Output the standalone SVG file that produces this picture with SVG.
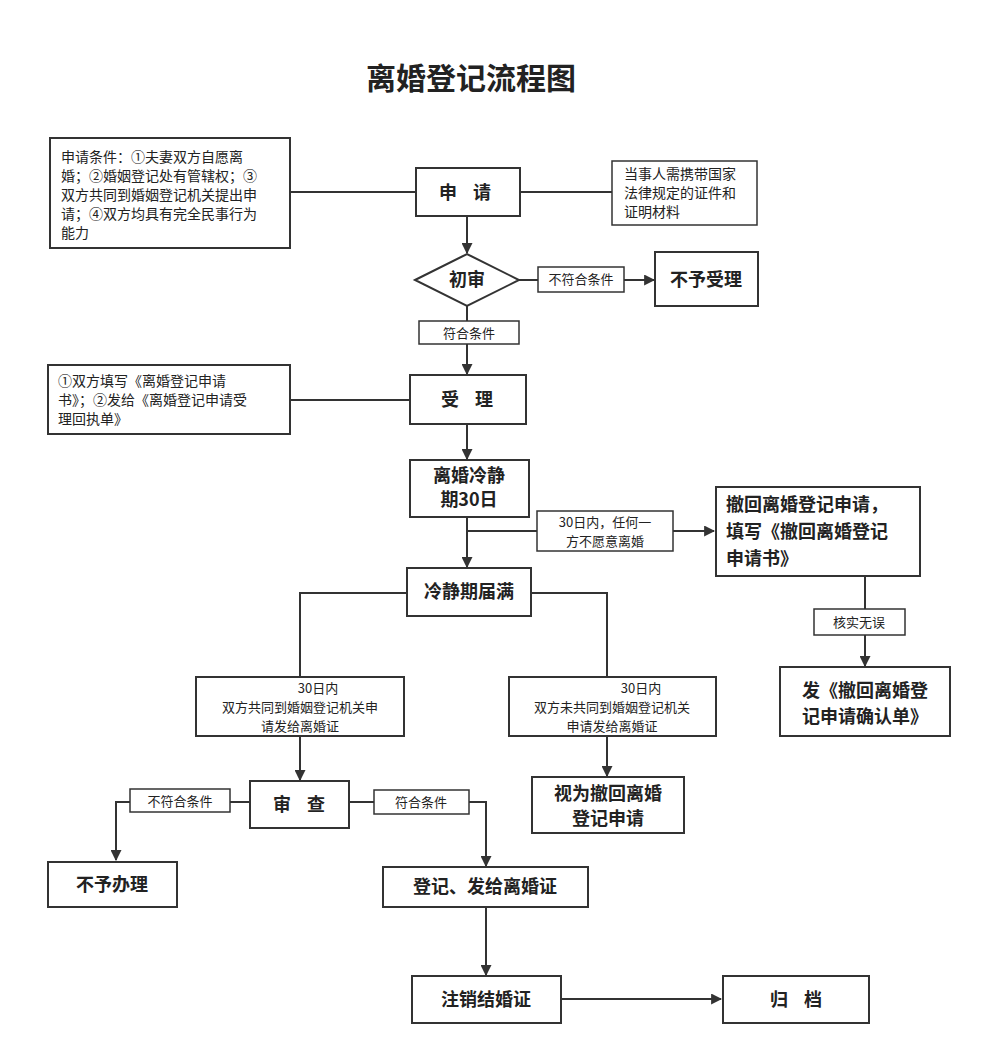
<svg xmlns="http://www.w3.org/2000/svg" width="982" height="1055" viewBox="0 0 982 1055">
<style>
.b{fill:#fff;stroke:#333;stroke-width:2}
.l{fill:#fff;stroke:#333;stroke-width:1.5}
text{font-family:"Noto Sans CJK SC","Noto Sans",sans-serif;fill:#222}
.t{font-size:18px;font-weight:bold;text-anchor:middle}
.ts{font-size:18px;font-weight:bold}
.s{font-size:14px}
.m{font-size:13px;text-anchor:middle}
.c{fill:none;stroke:#333;stroke-width:2}
</style>
<defs><marker id="a" viewBox="0 0 10 10" refX="9" refY="5" markerWidth="11" markerHeight="11" orient="auto" markerUnits="userSpaceOnUse"><path d="M0,0L10,5L0,10z" fill="#333"/></marker></defs>
<rect width="982" height="1055" fill="#fff"/>
<text x="471" y="89" font-size="30" font-weight="bold" text-anchor="middle">离婚登记流程图</text>
<g id="connectors">
<path class="c" d="M290,192H416M520,192H612"/>
<path class="c" d="M467,216V253" marker-end="url(#a)"/>
<path class="c" d="M519,280H538"/>
<path class="c" d="M624,280H654" marker-end="url(#a)"/>
<path class="c" d="M467,306V321"/>
<path class="c" d="M467,344V374" marker-end="url(#a)"/>
<path class="c" d="M290,400H410"/>
<path class="c" d="M467,424V459" marker-end="url(#a)"/>
<path class="c" d="M467,517V567" marker-end="url(#a)"/>
<path class="c" d="M467,531H537"/>
<path class="c" d="M673,531H714" marker-end="url(#a)"/>
<path class="c" d="M865,576V609"/>
<path class="c" d="M865,635V666" marker-end="url(#a)"/>
<path class="c" d="M407,593H300V677M531,593H607V677"/>
<path class="c" d="M300,736V780" marker-end="url(#a)"/>
<path class="c" d="M607,736V776" marker-end="url(#a)"/>
<path class="c" d="M250,802H230"/>
<path class="c" d="M130,802H116V860" marker-end="url(#a)"/>
<path class="c" d="M349,802H374"/>
<path class="c" d="M469,802H486V866" marker-end="url(#a)"/>
<path class="c" d="M486,907V975" marker-end="url(#a)"/>
<path class="c" d="M561,999H721" marker-end="url(#a)"/>
</g>
<g id="cond"><rect class="b" x="50" y="138" width="240" height="110"/>
<text class="s" x="61" y="162">申请条件：①夫妻双方自愿离</text><text class="s" x="61" y="181">婚；②婚姻登记处有管辖权；③</text><text class="s" x="61" y="200">双方共同到婚姻登记机关提出申</text><text class="s" x="61" y="219">请；④双方均具有完全民事行为</text><text class="s" x="61" y="238">能力</text></g>
<g id="apply"><rect class="b" x="416" y="168" width="104" height="48"/><text class="t" x="468" y="199" font-size="20" letter-spacing="6">申 请</text></g>
<g id="note"><rect class="l" x="612" y="161" width="145" height="64"/><text class="s" x="624" y="179">当事人需携带国家</text><text class="s" x="624" y="198">法律规定的证件和</text><text class="s" x="624" y="217">证明材料</text></g>
<g id="check"><polygon class="b" points="415,280 467,254 519,280 467,306"/><text class="t" x="467" y="286">初审</text></g>
<g id="l1"><rect class="l" x="538" y="267" width="86" height="25"/><text class="m" x="581" y="284">不符合条件</text></g>
<g id="reject"><rect class="b" x="655" y="252" width="103" height="54"/><text class="t" x="706" y="286">不予受理</text></g>
<g id="l2"><rect class="l" x="419" y="321" width="100" height="23"/><text class="m" x="469" y="338" font-size="14">符合条件</text></g>
<g id="accept"><rect class="b" x="410" y="375" width="116" height="49"/><text class="t" x="470" y="406" font-size="20" letter-spacing="6">受 理</text></g>
<g id="note2"><rect class="b" x="48" y="365" width="242" height="69"/><text class="s" x="58" y="386">①双方填写《离婚登记申请</text><text class="s" x="58" y="405">书》；②发给《离婚登记申请受</text><text class="s" x="58" y="424">理回执单》</text></g>
<g id="cool"><rect class="b" x="410" y="460" width="119" height="57"/><text class="t" x="469" y="482">离婚冷静</text><text class="t" x="469" y="506">期30日</text></g>
<g id="l3"><rect class="l" x="537" y="511" width="136" height="40"/><text class="m" x="605" y="527" font-size="14">30日内，任何一</text><text class="m" x="605" y="546" font-size="14">方不愿意离婚</text></g>
<g id="withdraw"><rect class="b" x="716" y="487" width="204" height="89"/><text class="ts" x="726" y="511">撤回离婚登记申请，</text><text class="ts" x="726" y="538">填写《撤回离婚登记</text><text class="ts" x="726" y="565">申请书》</text></g>
<g id="l4"><rect class="l" x="814" y="609" width="91" height="26"/><text class="m" x="859" y="627" font-size="14">核实无误</text></g>
<g id="confirm"><rect class="b" x="780" y="667" width="170" height="69"/><text class="t" x="865" y="697">发《撤回离婚登</text><text class="t" x="865" y="723">记申请确认单》</text></g>
<g id="expire"><rect class="b" x="407" y="568" width="124" height="48"/><text class="t" x="469" y="598">冷静期届满</text></g>
<g id="both"><rect class="b" x="196" y="677" width="208" height="59"/><text class="m" x="318" y="693" font-size="14">30日内</text><text class="m" x="300" y="712" font-size="14">双方共同到婚姻登记机关申</text><text class="m" x="300" y="731" font-size="14">请发给离婚证</text></g>
<g id="notboth"><rect class="b" x="509" y="677" width="207" height="59"/><text class="m" x="641" y="693" font-size="14">30日内</text><text class="m" x="612" y="712" font-size="14">双方未共同到婚姻登记机关</text><text class="m" x="612" y="731" font-size="14">申请发给离婚证</text></g>
<g id="deemed"><rect class="b" x="532" y="777" width="152" height="56"/><text class="t" x="608" y="800">视为撤回离婚</text><text class="t" x="608" y="825">登记申请</text></g>
<g id="review"><rect class="b" x="250" y="781" width="99" height="47"/><text class="t" x="302" y="811" font-size="20" letter-spacing="6">审 查</text></g>
<g id="l5"><rect class="l" x="130" y="789" width="100" height="23"/><text class="m" x="180" y="806" font-size="14">不符合条件</text></g>
<g id="noproc"><rect class="b" x="48" y="862" width="129" height="45"/><text class="t" x="112" y="891">不予办理</text></g>
<g id="l6"><rect class="l" x="374" y="790" width="95" height="24"/><text class="m" x="421" y="807" font-size="14">符合条件</text></g>
<g id="register"><rect class="b" x="383" y="867" width="205" height="40"/><text class="t" x="485" y="893">登记、发给离婚证</text></g>
<g id="cancel"><rect class="b" x="412" y="976" width="149" height="47"/><text class="t" x="486" y="1006">注销结婚证</text></g>
<g id="archive"><rect class="b" x="723" y="976" width="146" height="47"/><text class="t" x="799" y="1006" letter-spacing="6">归 档</text></g>
</svg>
